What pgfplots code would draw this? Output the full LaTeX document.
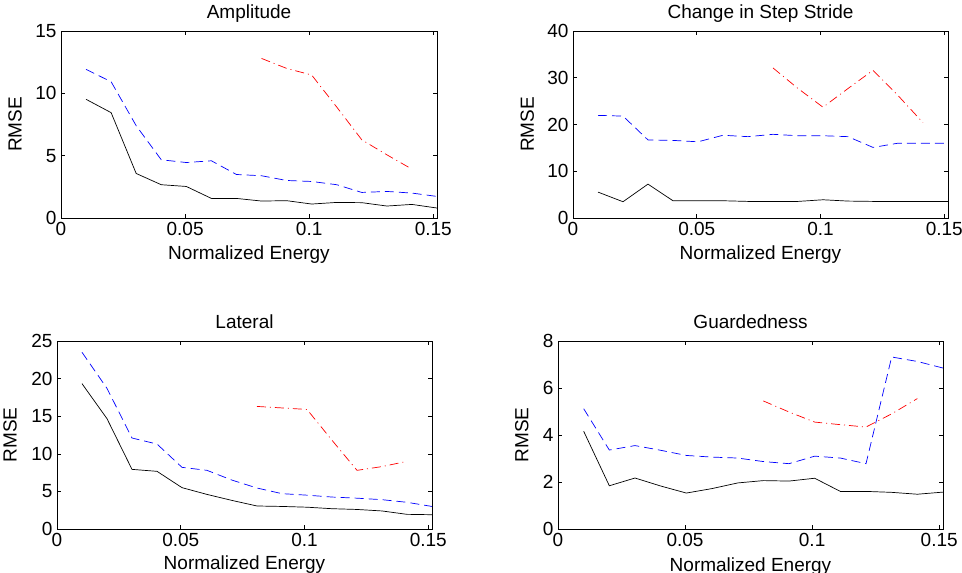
\documentclass[border=0pt]{standalone}
\usepackage{fontspec}
\setmainfont{Liberation Sans}
\usepackage{pgfplots}
\pgfplotsset{compat=1.18}
\pgfplotsset{
  mat/.style={
    scale only axis,
    anchor=south west,
    xmin=0, xmax=0.1515,
    xtick={0,0.05,0.1,0.15},
    xticklabels={0,0.05,0.1,0.15},
    /pgf/number format/assume math mode=true,
    tick align=inside,
    major tick length=4bp,
    axis line style={line width=0.6bp},
    every tick/.style={black, line width=0.6bp},
    tick label style={font=\fontsize{19bp}{22bp}\selectfont},
    label style={font=\fontsize{19bp}{22bp}\selectfont},
    title style={font=\fontsize{19bp}{22bp}\selectfont, anchor=center},
    xlabel={Normalized Energy},
    ylabel={RMSE},
    xticklabel style={yshift=-1bp},
    yticklabel style={xshift=-1bp},
  },
  sol/.style={black, line width=0.7bp, no marks},
  das/.style={blue, line width=0.7bp, no marks, dash pattern=on 9bp off 5bp},
  dd/.style={red, line width=0.7bp, no marks, dash pattern=on 9bp off 4bp on 1bp off 4bp},
}
\begin{document}
\begin{tikzpicture}
\useasboundingbox (0,0) rectangle (962bp,-573bp);
% Amplitude
\begin{axis}[mat, at={(61bp,-218bp)}, width=376bp, height=187bp,
  ymin=0, ymax=15, ytick={0,5,10,15},
  title={Amplitude}, title style={at={(axis description cs:0.5,1.062)}},
  xlabel style={at={(axis description cs:0.5,-0.198)}, anchor=center},
  ylabel style={at={(axis description cs:-0.122,0.5)}, anchor=center}]
\addplot[sol] coordinates {(0.0101,9.52)(0.0202,8.45)(0.0303,3.57)(0.0404,2.67)(0.0505,2.53)(0.0606,1.57)(0.0707,1.57)(0.0808,1.36)(0.0909,1.39)(0.1010,1.12)(0.1111,1.25)(0.1212,1.23)(0.1313,0.96)(0.1414,1.09)(0.1515,0.80)};
\addplot[das] coordinates {(0.0101,11.92)(0.0202,10.93)(0.0303,7.4)(0.0404,4.67)(0.0505,4.45)(0.0606,4.59)(0.0707,3.49)(0.0808,3.39)(0.0909,3.01)(0.1010,2.93)(0.1111,2.67)(0.1212,2.05)(0.1313,2.13)(0.1414,2.0)(0.1515,1.73)};
\addplot[dd] coordinates {(0.0808,12.8)(0.0909,12.0)(0.1010,11.47)(0.1111,8.9)(0.1212,6.27)(0.1313,5.07)(0.1414,3.92)};
\end{axis}
% Change in Step Stride
\begin{axis}[mat, at={(573bp,-218bp)}, width=375bp, height=187bp,
  ymin=0, ymax=40, ytick={0,10,20,30,40},
  title={Change in Step Stride}, title style={at={(axis description cs:0.5,1.062)}},
  xlabel style={at={(axis description cs:0.5,-0.198)}, anchor=center},
  ylabel style={at={(axis description cs:-0.122,0.5)}, anchor=center}]
\addplot[sol] coordinates {(0.0101,5.54)(0.0202,3.48)(0.0303,7.25)(0.0404,3.69)(0.0505,3.69)(0.0606,3.69)(0.0707,3.55)(0.0808,3.55)(0.0909,3.55)(0.1010,3.9)(0.1111,3.62)(0.1212,3.55)(0.1313,3.55)(0.1414,3.55)(0.1515,3.55)};
\addplot[das] coordinates {(0.0101,21.95)(0.0202,21.8)(0.0303,16.7)(0.0404,16.6)(0.0505,16.3)(0.0606,17.7)(0.0707,17.4)(0.0808,17.9)(0.0909,17.6)(0.1010,17.6)(0.1111,17.4)(0.1212,15.1)(0.1313,16.0)(0.1414,16.0)(0.1515,16.0)};
\addplot[dd] coordinates {(0.0808,32.1)(0.0909,27.7)(0.1010,23.7)(0.1111,27.7)(0.1212,31.6)(0.1313,26.2)(0.1414,20.4)};
\end{axis}
% Lateral
\begin{axis}[mat, at={(57bp,-529bp)}, width=375bp, height=188bp,
  ymin=0, ymax=25, ytick={0,5,10,15,20,25},
  title={Lateral}, title style={at={(axis description cs:0.5,1.072)}},
  xlabel style={at={(axis description cs:0.5,-0.188)}, anchor=center},
  ylabel style={at={(axis description cs:-0.125,0.5)}, anchor=center}]
\addplot[sol] coordinates {(0.0101,19.33)(0.0202,14.67)(0.0303,7.93)(0.0404,7.67)(0.0505,5.50)(0.0606,4.6)(0.0707,3.8)(0.0808,3.06)(0.0909,3.0)(0.1010,2.9)(0.1111,2.7)(0.1212,2.6)(0.1313,2.4)(0.1414,1.95)(0.1515,1.9)};
\addplot[das] coordinates {(0.0101,23.5)(0.0202,18.7)(0.0303,12.1)(0.0404,11.3)(0.0505,8.2)(0.0606,7.8)(0.0707,6.5)(0.0808,5.45)(0.0909,4.7)(0.1010,4.5)(0.1111,4.25)(0.1212,4.1)(0.1313,3.9)(0.1414,3.55)(0.1515,3.0)};
\addplot[dd] coordinates {(0.0808,16.3)(0.0909,16.1)(0.1010,15.9)(0.1111,11.8)(0.1212,7.8)(0.1313,8.3)(0.1414,9.0)};
\end{axis}
% Guardedness
\begin{axis}[mat, at={(558bp,-529bp)}, width=385bp, height=188bp,
  ymin=0, ymax=8, ytick={0,2,4,6,8},
  title={Guardedness}, title style={at={(axis description cs:0.5,1.072)}},
  xlabel style={at={(axis description cs:0.5,-0.198)}, anchor=center},
  ylabel style={at={(axis description cs:-0.094,0.5)}, anchor=center}]
\addplot[sol] coordinates {(0.0101,4.16)(0.0202,1.84)(0.0303,2.17)(0.0404,1.83)(0.0505,1.53)(0.0606,1.72)(0.0707,1.96)(0.0808,2.06)(0.0909,2.04)(0.1010,2.16)(0.1111,1.60)(0.1212,1.60)(0.1313,1.56)(0.1414,1.48)(0.1515,1.57)};
\addplot[das] coordinates {(0.0101,5.12)(0.0202,3.36)(0.0303,3.55)(0.0404,3.35)(0.0505,3.13)(0.0606,3.06)(0.0707,3.02)(0.0808,2.87)(0.0909,2.78)(0.1010,3.1)(0.1111,3.02)(0.1212,2.78)(0.1313,7.32)(0.1414,7.13)(0.1515,6.85)};
\addplot[dd] coordinates {(0.0808,5.45)(0.0909,4.98)(0.1010,4.55)(0.1111,4.44)(0.1212,4.34)(0.1313,4.9)(0.1414,5.55)};
\end{axis}
\end{tikzpicture}
\end{document}
